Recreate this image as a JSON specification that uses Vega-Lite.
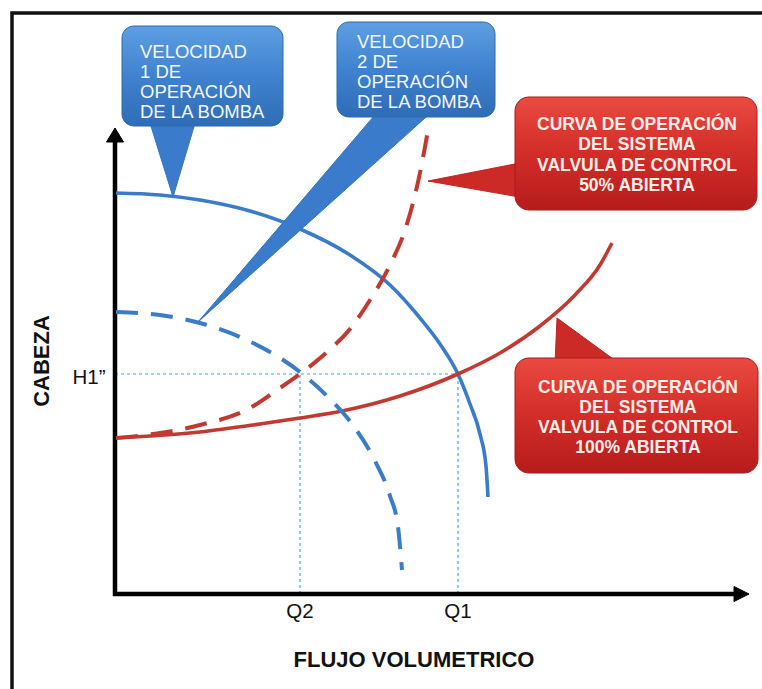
{
  "$schema": "https://vega.github.io/schema/vega-lite/v6.json",
  "width": 762,
  "height": 689,
  "padding": 0,
  "autosize": "none",
  "background": "white",
  "config": {"view": {"stroke": null}},
  "datasets": {
    "frame": [{"x": -20.6, "y": -19.5, "i": 0}, {"x": -20.6, "y": 116.2, "i": 1}, {"x": 130, "y": 116.2, "i": 2}],
    "axes": [{"x": 0, "y": -0.4, "x2": 0, "y2": 91}, {"x": -0.4, "y": 0, "x2": 124.2, "y2": 0}],
    "arrows": [
      {"id": "ya", "i": 0, "x": -1.7, "y": 90.4}, {"id": "ya", "i": 1, "x": 0, "y": 93.2}, {"id": "ya", "i": 2, "x": 1.7, "y": 90.4},
      {"id": "xa", "i": 0, "x": 123.8, "y": 1.5}, {"id": "xa", "i": 1, "x": 126.8, "y": 0}, {"id": "xa", "i": 2, "x": 123.8, "y": -1.5}
    ],
    "guides": [{"x": 0, "y": 44, "x2": 68.6, "y2": 44}, {"x": 37, "y": 0, "x2": 37, "y2": 44}, {"x": 68.6, "y": 0, "x2": 68.6, "y2": 44}],
    "solid": [
      {"s": "v1", "i": 0, "x": 0.2, "y": 80.2}, {"s": "v1", "i": 1, "x": 9, "y": 79.8}, {"s": "v1", "i": 2, "x": 17, "y": 78.8},
      {"s": "v1", "i": 3, "x": 27, "y": 76.6}, {"s": "v1", "i": 4, "x": 37, "y": 73}, {"s": "v1", "i": 5, "x": 47, "y": 67.8},
      {"s": "v1", "i": 6, "x": 55, "y": 61.8}, {"s": "v1", "i": 7, "x": 61, "y": 55.2}, {"s": "v1", "i": 8, "x": 65, "y": 50},
      {"s": "v1", "i": 9, "x": 68.6, "y": 44}, {"s": "v1", "i": 10, "x": 71, "y": 38}, {"s": "v1", "i": 11, "x": 73, "y": 32},
      {"s": "v1", "i": 12, "x": 74.2, "y": 25.6}, {"s": "v1", "i": 13, "x": 74.6, "y": 19.4},
      {"s": "s100", "i": 0, "x": 0.2, "y": 31.2}, {"s": "s100", "i": 1, "x": 17, "y": 32.4}, {"s": "s100", "i": 2, "x": 29, "y": 34},
      {"s": "s100", "i": 3, "x": 37, "y": 35.2}, {"s": "s100", "i": 4, "x": 45.4, "y": 36.6}, {"s": "s100", "i": 5, "x": 57, "y": 39.6},
      {"s": "s100", "i": 6, "x": 68.6, "y": 44}, {"s": "s100", "i": 7, "x": 77, "y": 48.2}, {"s": "s100", "i": 8, "x": 85, "y": 53.6},
      {"s": "s100", "i": 9, "x": 92, "y": 59.8}, {"s": "s100", "i": 10, "x": 97, "y": 65.8}, {"s": "s100", "i": 11, "x": 99.4, "y": 70.2}
    ],
    "dashed": [
      {"s": "v2", "i": 0, "x": 0.2, "y": 56.4}, {"s": "v2", "i": 1, "x": 9, "y": 55.8}, {"s": "v2", "i": 2, "x": 17, "y": 54.2},
      {"s": "v2", "i": 3, "x": 25, "y": 51.4}, {"s": "v2", "i": 4, "x": 31, "y": 48.4}, {"s": "v2", "i": 5, "x": 37, "y": 44.4},
      {"s": "v2", "i": 6, "x": 43, "y": 39}, {"s": "v2", "i": 7, "x": 48, "y": 33.2}, {"s": "v2", "i": 8, "x": 52, "y": 26.6},
      {"s": "v2", "i": 9, "x": 55, "y": 19.6}, {"s": "v2", "i": 10, "x": 56.6, "y": 13.4}, {"s": "v2", "i": 11, "x": 57.4, "y": 4.8},
      {"s": "s50", "i": 0, "x": 0.2, "y": 31.2}, {"s": "s50", "i": 1, "x": 9, "y": 32.2}, {"s": "s50", "i": 2, "x": 17, "y": 33.8},
      {"s": "s50", "i": 3, "x": 27, "y": 37.2}, {"s": "s50", "i": 4, "x": 32.4, "y": 40.8}, {"s": "s50", "i": 5, "x": 37, "y": 44},
      {"s": "s50", "i": 6, "x": 42.4, "y": 48.4}, {"s": "s50", "i": 7, "x": 47, "y": 53}, {"s": "s50", "i": 8, "x": 51, "y": 58.8},
      {"s": "s50", "i": 9, "x": 55, "y": 65.8}, {"s": "s50", "i": 10, "x": 58, "y": 72.8}, {"s": "s50", "i": 11, "x": 60, "y": 79.8},
      {"s": "s50", "i": 12, "x": 61.4, "y": 86.2}, {"s": "s50", "i": 13, "x": 62.6, "y": 92.8}
    ],
    "bluePtr": [
      {"id": "p1", "i": 0, "x": 6.6, "y": 95.5}, {"id": "p1", "i": 1, "x": 16.4, "y": 95.5}, {"id": "p1", "i": 2, "x": 11.6, "y": 79.4},
      {"id": "p2", "i": 0, "x": 53, "y": 97}, {"id": "p2", "i": 1, "x": 64, "y": 97}, {"id": "p2", "i": 2, "x": 16.6, "y": 54.4}
    ],
    "redPtr": [
      {"id": "p3", "i": 0, "x": 82, "y": 86.4}, {"id": "p3", "i": 1, "x": 82, "y": 79.2}, {"id": "p3", "i": 2, "x": 62.6, "y": 82.6},
      {"id": "p4", "i": 0, "x": 88, "y": 46}, {"id": "p4", "i": 1, "x": 101, "y": 46}, {"id": "p4", "i": 2, "x": 88.4, "y": 55.2}
    ],
    "blueBoxes": [{"x": 1.4, "x2": 33.6, "y": 113.6, "y2": 93.6}, {"x": 44.4, "x2": 76, "y": 114.4, "y2": 95.4}],
    "redBoxes": [{"x": 80, "x2": 128.4, "y": 99.4, "y2": 76.8}, {"x": 80, "x2": 128.6, "y": 47.2, "y2": 24.2}],
    "blueText": [
      {"x": 5, "y": 108.4, "t": "VELOCIDAD"}, {"x": 5, "y": 104.4, "t": "1 DE"}, {"x": 5, "y": 100.4, "t": "OPERACIÓN"}, {"x": 5, "y": 96.4, "t": "DE LA BOMBA"},
      {"x": 48.4, "y": 110.4, "t": "VELOCIDAD"}, {"x": 48.4, "y": 106.4, "t": "2 DE"}, {"x": 48.4, "y": 102.4, "t": "OPERACIÓN"}, {"x": 48.4, "y": 98.4, "t": "DE LA BOMBA"}
    ],
    "redText": [
      {"x": 104.4, "y": 93.9, "t": "CURVA DE OPERACIÓN"}, {"x": 104.4, "y": 89.8, "t": "DEL SISTEMA"}, {"x": 104.4, "y": 85.7, "t": "VALVULA DE CONTROL"}, {"x": 104.4, "y": 81.6, "t": "50% ABIERTA"},
      {"x": 104.6, "y": 41.2, "t": "CURVA DE OPERACIÓN"}, {"x": 104.6, "y": 37.2, "t": "DEL SISTEMA"}, {"x": 104.6, "y": 33.2, "t": "VALVULA DE CONTROL"}, {"x": 104.6, "y": 29.2, "t": "100% ABIERTA"}
    ],
    "ticks": [{"x": -5.2, "y": 43.2, "t": "H1”"}, {"x": 37, "y": -3.6, "t": "Q2"}, {"x": 68.6, "y": -3.6, "t": "Q1"}],
    "titles": [{"x": 59.8, "y": -13.2, "t": "FLUJO VOLUMETRICO", "a": 0}, {"x": -14.6, "y": 46.6, "t": "CABEZA", "a": 270}]
  },
  "encoding": {
    "x": {"field": "x", "type": "quantitative", "scale": {"domain": [-23, 129.4], "nice": false, "zero": false}, "axis": null},
    "y": {"field": "y", "type": "quantitative", "scale": {"domain": [-19, 118.8], "nice": false, "zero": false}, "axis": null}
  },
  "layer": [
    {"data": {"name": "frame"}, "mark": {"type": "line", "stroke": "#111111", "strokeWidth": 3.5, "strokeCap": "square"}, "encoding": {"order": {"field": "i"}}},
    {"data": {"name": "guides"}, "mark": {"type": "rule", "stroke": "#4aa3e6", "strokeWidth": 1.2, "strokeDash": [3, 3]}, "encoding": {"x2": {"field": "x2"}, "y2": {"field": "y2"}}},
    {"data": {"name": "axes"}, "mark": {"type": "rule", "stroke": "#000000", "strokeWidth": 4.5}, "encoding": {"x2": {"field": "x2"}, "y2": {"field": "y2"}}},
    {"data": {"name": "arrows"}, "mark": {"type": "line", "interpolate": "linear-closed", "fill": "#000000", "stroke": "#000000", "strokeWidth": 1}, "encoding": {"detail": {"field": "id"}, "order": {"field": "i"}}},
    {"data": {"name": "solid"}, "mark": {"type": "line", "strokeWidth": 3.6, "interpolate": "monotone"},
      "encoding": {"color": {"field": "s", "type": "nominal", "scale": {"domain": ["v1", "s100"], "range": ["#3b7cc8", "#c13a32"]}, "legend": null}, "order": {"field": "i"}}},
    {"data": {"name": "dashed"}, "mark": {"type": "line", "strokeWidth": 4, "strokeDash": [22, 13], "interpolate": "monotone"},
      "encoding": {"color": {"field": "s", "type": "nominal", "scale": {"domain": ["v2", "s50"], "range": ["#3b7cc8", "#c13a32"]}, "legend": null}, "order": {"field": "i"}}},
    {"data": {"name": "bluePtr"}, "mark": {"type": "line", "interpolate": "linear-closed", "fill": "#3a7ccb", "stroke": "#3373c0", "strokeWidth": 1}, "encoding": {"detail": {"field": "id"}, "order": {"field": "i"}}},
    {"data": {"name": "redPtr"}, "mark": {"type": "line", "interpolate": "linear-closed", "fill": "#cc2a27", "stroke": "#c02323", "strokeWidth": 1}, "encoding": {"detail": {"field": "id"}, "order": {"field": "i"}}},
    {"data": {"name": "blueBoxes"}, "mark": {"type": "rect", "cornerRadius": 12, "stroke": "#2f68ad", "strokeWidth": 1,
      "fill": {"gradient": "linear", "x1": 0, "y1": 0, "x2": 0, "y2": 1, "stops": [{"offset": 0, "color": "#5d9fe2"}, {"offset": 0.5, "color": "#3f82cf"}, {"offset": 1, "color": "#2f6cb6"}]}},
      "encoding": {"x2": {"field": "x2"}, "y2": {"field": "y2"}}},
    {"data": {"name": "redBoxes"}, "mark": {"type": "rect", "cornerRadius": 14, "stroke": "#a81a1a", "strokeWidth": 1,
      "fill": {"gradient": "linear", "x1": 0, "y1": 0, "x2": 0, "y2": 1, "stops": [{"offset": 0, "color": "#ea4a40"}, {"offset": 0.5, "color": "#d22d29"}, {"offset": 1, "color": "#b51c1c"}]}},
      "encoding": {"x2": {"field": "x2"}, "y2": {"field": "y2"}}},
    {"data": {"name": "blueText"}, "mark": {"type": "text", "align": "left", "baseline": "middle", "font": "Liberation Sans", "fontSize": 18.5, "color": "#f4f8ff"}, "encoding": {"text": {"field": "t"}}},
    {"data": {"name": "redText"}, "mark": {"type": "text", "align": "center", "baseline": "middle", "font": "Liberation Sans", "fontSize": 17.5, "fontWeight": "bold", "color": "#fbeee8"}, "encoding": {"text": {"field": "t"}}},
    {"data": {"name": "ticks"}, "mark": {"type": "text", "align": "center", "baseline": "middle", "font": "Liberation Sans", "fontSize": 20.5, "color": "#111111"}, "encoding": {"text": {"field": "t"}}},
    {"data": {"name": "titles"}, "mark": {"type": "text", "align": "center", "baseline": "middle", "font": "Liberation Sans", "fontSize": 22, "fontWeight": "bold", "color": "#111111"},
      "encoding": {"text": {"field": "t"}, "angle": {"field": "a", "type": "quantitative", "scale": null}}}
  ]
}
